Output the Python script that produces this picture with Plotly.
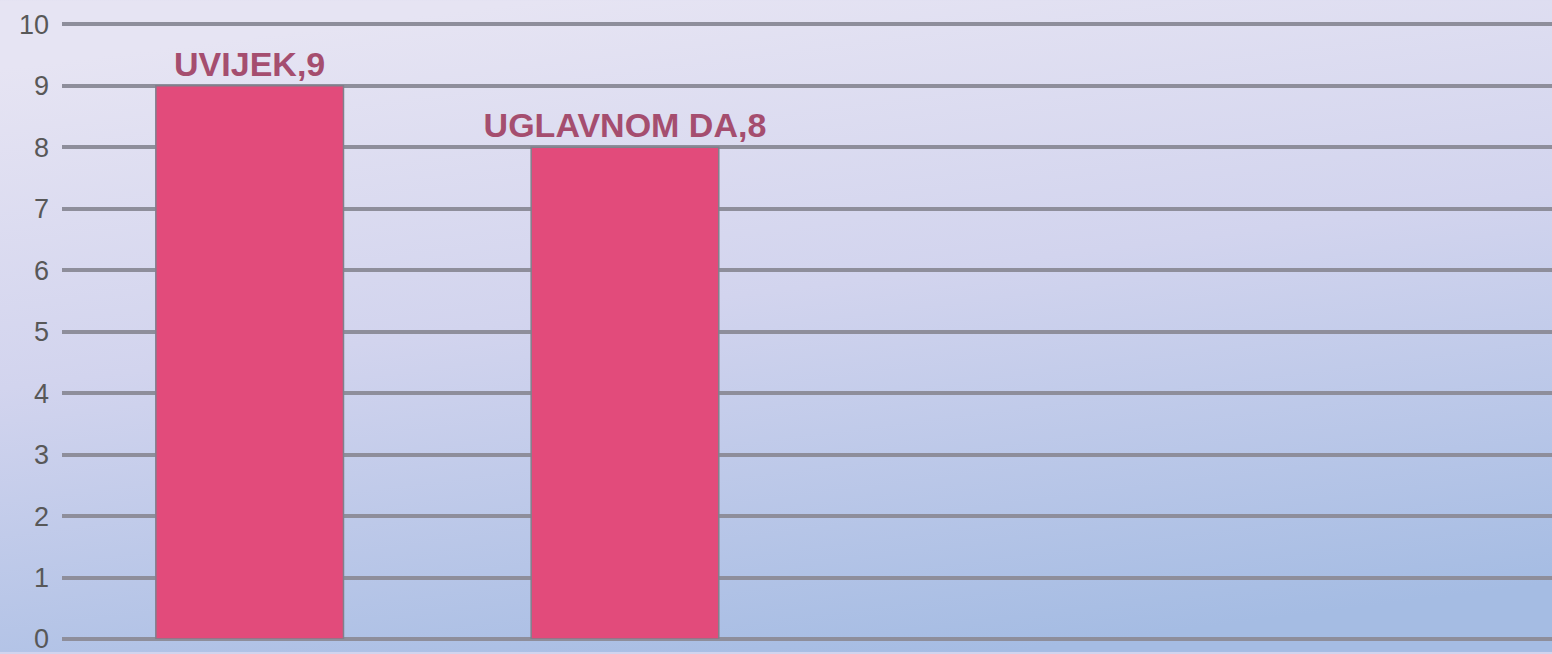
import base64
import plotly.graph_objects as go

categories = ["UVIJEK", "UGLAVNOM DA"]
values = [9, 8]
labels = ["UVIJEK,9", "UGLAVNOM DA,8"]
y_ticks = list(range(0, 11))

W, H = 1552, 654
ML, MR, MT, MB = 62, 0, 23, 13
pw, ph = W - ML - MR, H - MT - MB

svg = f'''<svg xmlns="http://www.w3.org/2000/svg" width="{W}" height="{H}" preserveAspectRatio="none">
<defs><linearGradient id="g" x1="0.35" y1="0" x2="0.65" y2="1">
<stop offset="0" stop-color="#E6E4F3"/>
<stop offset="0.45" stop-color="#D2D4EE"/>
<stop offset="1" stop-color="#A5BCE3"/>
</linearGradient></defs>
<rect width="{W}" height="{H}" fill="url(#g)"/></svg>'''
src = "data:image/svg+xml;base64," + base64.b64encode(svg.encode()).decode()

fig = go.Figure()
fig.add_trace(go.Bar(
    x=categories, y=values, text=labels, textposition="outside",
    width=0.5, constraintext="none",
    marker=dict(color="#E24B7B", line=dict(color="#80808C", width=1.5)),
    textfont=dict(family="Liberation Sans, Arial, sans-serif", size=34, color="#A54E6F", weight="bold"),
    cliponaxis=False,
))

fig.add_layout_image(dict(
    source=src, xref="paper", yref="paper",
    x=-ML / pw, y=1 + MT / ph, sizex=W / pw, sizey=H / ph,
    xanchor="left", yanchor="top", sizing="stretch", layer="below",
))

fig.update_layout(
    width=W, height=H,
    margin=dict(l=ML, r=MR, t=MT, b=MB),
    paper_bgcolor="#D2D4EE", plot_bgcolor="rgba(0,0,0,0)",
    showlegend=False, bargap=0.5,
    xaxis=dict(type="category", range=[-0.5, 3.47], showticklabels=False,
               showgrid=False, zeroline=False, showline=False),
    yaxis=dict(range=[0, 10.02], tickvals=y_ticks, showgrid=True,
               gridcolor="#8E8E9B", gridwidth=3.5, zeroline=True,
               zerolinecolor="#8E8E9B", zerolinewidth=3.5,
               tickfont=dict(family="Liberation Sans, Arial, sans-serif", size=27, color="#585858"),
               ticks="", ticklabelstandoff=12, ticklabeloverflow="allow"),
)

fig.write_html("out.html", config={"displayModeBar": False},
               post_script="document.body.style.margin='0';document.body.style.overflow='hidden';")
